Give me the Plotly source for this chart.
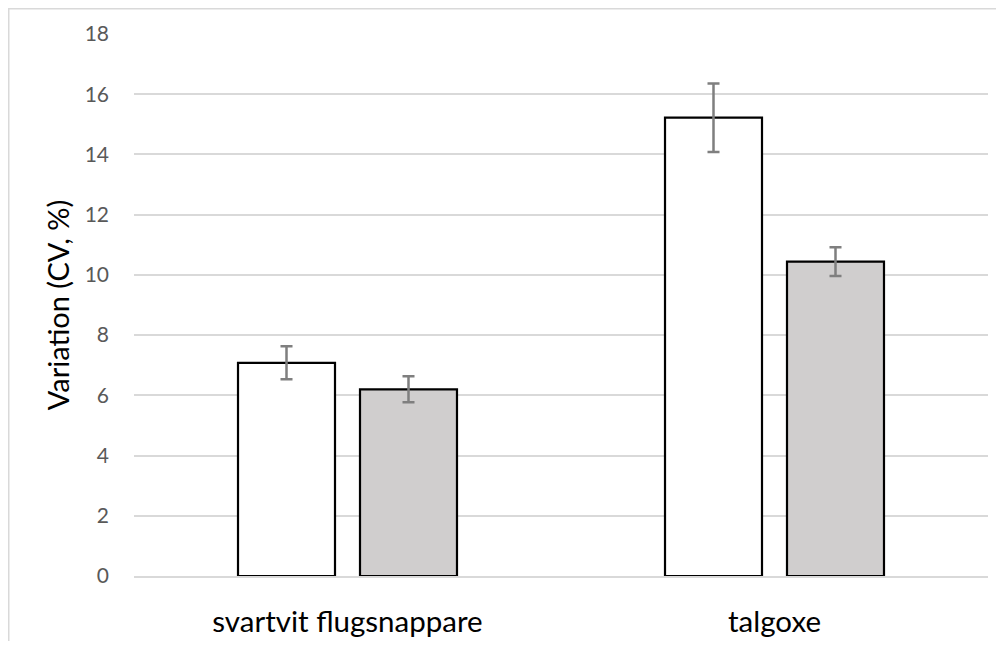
import plotly.graph_objects as go

categories = ["svartvit flugsnappare", "talgoxe"]
series_a = [7.08, 15.22]
series_a_err = [0.55, 1.14]
series_b = [6.20, 10.44]
series_b_err = [0.43, 0.48]
y_ticks = [0, 2, 4, 6, 8, 10, 12, 14, 16, 18]

font_family = "Lato, 'Open Sans', sans-serif"

fig = go.Figure()
fig.add_trace(go.Bar(
    x=categories, y=series_a, name="A",
    marker=dict(color="#ffffff", line=dict(color="#000000", width=2.2)),
    error_y=dict(type="data", array=series_a_err, color="#7f7f7f", thickness=2.5, width=6),
))
fig.add_trace(go.Bar(
    x=categories, y=series_b, name="B",
    marker=dict(color="#d0cece", line=dict(color="#000000", width=2.2)),
    error_y=dict(type="data", array=series_b_err, color="#7f7f7f", thickness=2.5, width=6),
))

# page has an 8px body margin, so the figure is offset by 8px
W, H = 988, 633
L, R, T, B = 126, 8, 26, 65
pw = W - L - R
ph = H - T - B

fig.update_layout(
    width=W, height=H,
    margin=dict(l=L, r=R, t=T, b=B),
    paper_bgcolor="#ffffff", plot_bgcolor="#ffffff",
    barmode="group", bargap=0.4286, bargroupgap=0.205,
    showlegend=False,
    font=dict(family=font_family),
    xaxis=dict(
        showgrid=False, showline=True, linecolor="#d9d9d9", linewidth=1.5,
        tickfont=dict(size=29.5, color="#000000"),
        ticks="", ticklabelstandoff=19, automargin=False,
    ),
    yaxis=dict(
        range=[0, 18], tickvals=y_ticks, showgrid=True, gridcolor="#d9d9d9", gridwidth=1.5,
        zeroline=False, showline=False, automargin=False,
        tickfont=dict(size=21, color="#595959"),
        ticks="", ticklabelstandoff=24,
        title=dict(text="Variation (CV, %)", font=dict(size=29, color="#000000"), standoff=6),
    ),
    shapes=[dict(
        type="rect", xref="paper", yref="paper",
        x0=(0.75 - L) / pw, x1=(W + 10 - L) / pw,
        y0=-(B + 10) / ph, y1=1 + (T - 0.75) / ph,
        line=dict(color="#d9d9d9", width=1.5), fillcolor="rgba(0,0,0,0)", layer="below",
    )],
)

fig.write_html("out.html")
